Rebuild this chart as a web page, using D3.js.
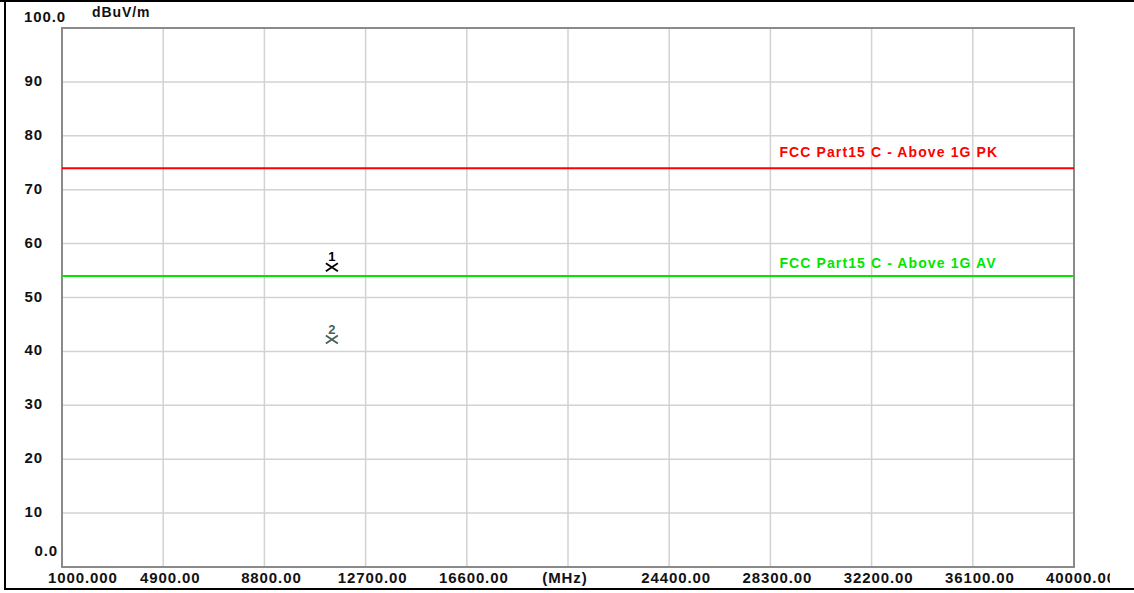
<!DOCTYPE html>
<html><head><meta charset="utf-8">
<script src="https://cdn.jsdelivr.net/npm/d3@7"></script>
<style>
html,body{margin:0;padding:0;background:#fff;}
svg{display:block;}
text{font-family:"Liberation Sans",Arial,sans-serif;font-weight:bold;}
</style></head>
<body>
<script>
// ---- data ----
const xTicks = [1000, 4900, 8800, 12700, 16600, 20500, 24400, 28300, 32200, 36100, 40000];
const xTickLabels = ["1000.000","4900.00","8800.00","12700.00","16600.00","(MHz)","24400.00","28300.00","32200.00","36100.00","40000.00"];
const yTicks = [0,10,20,30,40,50,60,70,80,90,100];
const yTickLabels = ["0.0","10","20","30","40","50","60","70","80","90","100.0"];
const limitNames = ["FCC Part15 C - Above 1G PK","FCC Part15 C - Above 1G AV"];
const limitValues = [74, 54];
const limitColors = ["#ff0000","#00e600"];
const markerIds = ["1","2"];
const markerFreqs = [11400, 11400];
const markerValues = [55.6, 42.2];
const markerColors = ["#000000","#46605a"];
const yUnit = "dBuV/m";

const W = 1134, H = 593;
const svg = d3.select("body").append("svg").attr("width", W).attr("height", H);
svg.append("rect").attr("width", W).attr("height", H).attr("fill", "#fff");

const x = d3.scaleLinear().domain([1000, 40000]).range([62, 1074]);
const y = d3.scaleLinear().domain([0, 100]).range([567, 28]);

svg.append("defs").append("clipPath").attr("id","clipAll")
  .append("rect").attr("x",0).attr("y",0).attr("width",1110).attr("height",H);

// outer frame (left, top, bottom)
svg.append("line").attr("x1",5).attr("x2",5).attr("y1",0).attr("y2",590).attr("stroke","#000").attr("stroke-width",2);
svg.append("line").attr("x1",0).attr("x2",W).attr("y1",1).attr("y2",1).attr("stroke","#000").attr("stroke-width",2);
svg.append("line").attr("x1",4).attr("x2",W).attr("y1",589).attr("y2",589).attr("stroke","#000").attr("stroke-width",2);

// grid
const grid = svg.append("g");
grid.selectAll("line.v").data(xTicks.slice(1, -1)).join("line")
  .attr("x1", d => x(d)).attr("x2", d => x(d)).attr("y1", y(100)).attr("y2", y(0))
  .attr("stroke", "#d2d2d2").attr("stroke-width", 1.5);
grid.selectAll("line.h").data(yTicks.slice(1, -1)).join("line")
  .attr("x1", x(1000)).attr("x2", x(40000)).attr("y1", d => y(d)).attr("y2", d => y(d))
  .attr("stroke", "#d2d2d2").attr("stroke-width", 1.5);

// plot frame
svg.append("rect").attr("x", x(1000)).attr("y", y(100))
  .attr("width", x(40000) - x(1000)).attr("height", y(0) - y(100))
  .attr("fill", "none").attr("stroke", "#8a8a8a").attr("stroke-width", 2);

// y labels
svg.append("g").selectAll("text").data(yTicks).join("text")
  .attr("font-size", 15).attr("letter-spacing", 0.9).attr("fill", "#111")
  .attr("text-anchor", (d, i) => i === yTicks.length - 1 ? "start" : "end")
  .attr("x", (d, i) => i === 0 ? 58 : (i === yTicks.length - 1 ? 24 : 43))
  .attr("y", (d, i) => i === 0 ? y(d) - 11 : (i === yTicks.length - 1 ? y(d) - 6 : y(d) + 4))
  .text((d, i) => yTickLabels[i]);

svg.append("text").attr("x", 92).attr("y", 17).attr("font-size", 14).attr("letter-spacing", 0.9)
  .attr("fill", "#111").text(yUnit);

// x labels
svg.append("g").attr("clip-path","url(#clipAll)").selectAll("text").data(xTicks).join("text")
  .attr("font-size", 15).attr("letter-spacing", 0.9).attr("fill", "#111")
  .attr("text-anchor", (d, i) => i === 0 ? "start" : "middle")
  .attr("x", (d, i) => i === 0 ? x(d) - 14 : (xTickLabels[i] === "(MHz)" ? x(d) - 3 : x(d) + 7))
  .attr("y", 583)
  .text((d, i) => xTickLabels[i]);

// limit lines
const lim = svg.append("g");
lim.selectAll("line").data(limitValues).join("line")
  .attr("x1", x(1000)).attr("x2", x(40000))
  .attr("y1", d => y(d)).attr("y2", d => y(d))
  .attr("stroke", (d, i) => limitColors[i]).attr("stroke-width", 2);
lim.selectAll("text").data(limitValues).join("text")
  .attr("x", x(28650)).attr("y", (d, i) => y(d) - (i === 0 ? 11 : 8))
  .attr("font-size", 14).attr("letter-spacing", 1.1).attr("fill", (d, i) => limitColors[i])
  .text((d, i) => limitNames[i]);

// markers
const mk = svg.append("g");
markerValues.forEach((v, i) => {
  const cx = x(markerFreqs[i]), cy = y(v);
  mk.append("path")
    .attr("d", `M${cx-6},${cy-4}L${cx+6},${cy+4}M${cx+6},${cy-4}L${cx-6},${cy+4}`)
    .attr("stroke", markerColors[i]).attr("stroke-width", 1.8).attr("fill", "none");
  mk.append("text").attr("x", cx).attr("y", cy - 6).attr("text-anchor", "middle")
    .attr("font-size", 13).attr("font-weight", "normal").attr("fill", markerColors[i])
    .text(markerIds[i]);
});
</script>
</body></html>
